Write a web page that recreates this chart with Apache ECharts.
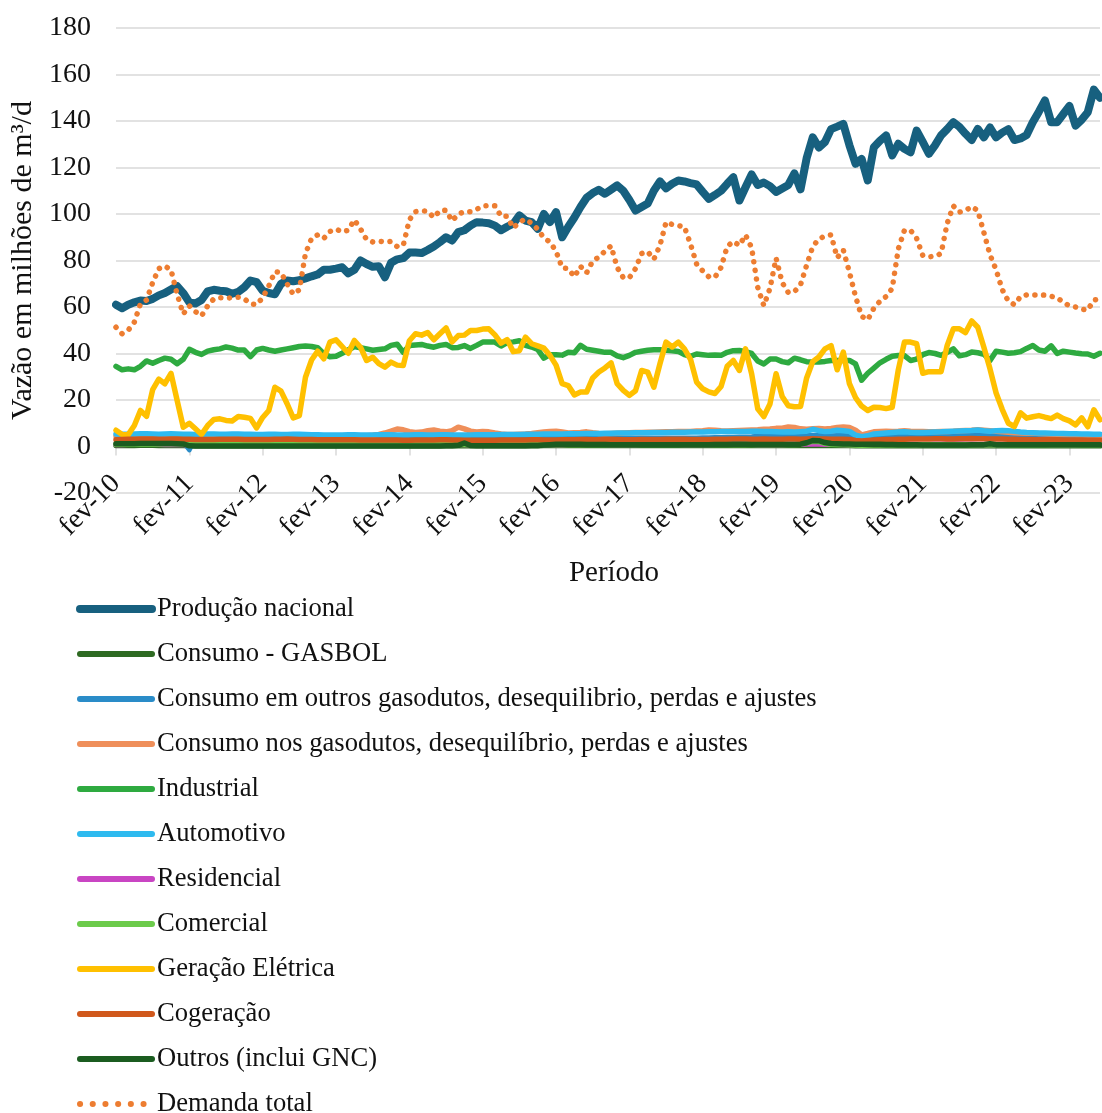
<!DOCTYPE html>
<html lang="pt-BR">
<head>
<meta charset="utf-8">
<title>Oferta e demanda de gás natural</title>
<script src="https://cdn.jsdelivr.net/npm/echarts@6/dist/echarts.min.js"></script>
<style>
  html, body { margin: 0; padding: 0; background: #ffffff; }
  #chart { width: 1102px; height: 1113px; }
</style>
</head>
<body>
<div id="chart"></div>
<script>
// Meses em português e período coberto (fev-10 a jul-23, mensal)
const mesesAbrev = ['jan', 'fev', 'mar', 'abr', 'mai', 'jun', 'jul', 'ago', 'set', 'out', 'nov', 'dez'];
const anoInicial = 2010;
const mesInicial = 1;      // fevereiro
const totalMeses = 162;

const periodos = [];
for (let k = 0; k < totalMeses; k++) {
  const m = (mesInicial + k) % 12;
  const a = anoInicial + Math.floor((mesInicial + k) / 12);
  periodos.push(mesesAbrev[m] + '-' + String(a).slice(2));
}

// Eixo vertical (milhões de m³/d)
const eixoYMin = -20;
const eixoYMax = 180;
const eixoYPasso = 20;

// Séries mensais, uma linha por ano (fev a jan)
const producaoNacional = [
  61, 59.5, 61, 62, 62.8, 62.6, 63.5, 65, 66, 67.5, 69, 66,
  62, 61.5, 63, 66.7, 67.4, 67, 66.8, 65.7, 66.5, 68.5, 71.4, 70.7,
  67, 66, 65.5, 70, 71.4, 71.1, 71.5, 72.3, 73.2, 74, 76, 76,
  76.5, 77.1, 74.5, 76, 80, 78.5, 77.3, 77.5, 72.8, 79, 80.5, 81,
  83.4, 83.4, 83.2, 84.5, 86, 87.9, 90, 88.6, 92.2, 93, 95, 96.5,
  96.3, 96, 95, 93, 94.5, 95.8, 99.4, 97.2, 96.5, 93.6, 100, 96.5,
  100.8, 90, 94.5, 98.5, 103, 107, 109, 110.4, 108.7, 110.5, 112.3, 110,
  106, 101.5, 103, 104.5, 110, 114, 111, 113, 114.4, 114, 113.3, 112.7,
  109.5, 106.5, 108.2, 110, 113, 115.8, 105.8, 111.5, 117, 112.5, 113.5, 112,
  109.5, 111, 112.5, 117.5, 110.6, 124, 133, 128.6, 131, 136.5, 137.6, 138.8,
  129.6, 121.6, 123.7, 114.4, 128.7, 131.5, 133.8, 125.2, 130.2, 128, 126.5, 135.9,
  131, 125.9, 129.5, 133.8, 136.5, 139.5, 137.5, 134.5, 131.8, 136.6, 133, 137.2,
  133, 135, 136.5, 131.8, 132.5, 134, 139.5, 144, 148.8, 139.5, 139.5, 143,
  146.5, 138, 140.5, 143.8, 153.5, 150
];

const consumoGasbol = [
  0.4, 0.4, 0.4, 0.4, 0.5, 0.5, 0.5, 0.4, 0.4, 0.4, 0.4, 0.4,
  0.3, 0.3, 0.3, 0.3, 0.3, 0.3, 0.3, 0.3, 0.3, 0.3, 0.3, 0.3,
  0.3, 0.3, 0.3, 0.3, 0.3, 0.3, 0.3, 0.3, 0.3, 0.3, 0.3, 0.3,
  0.3, 0.3, 0.3, 0.3, 0.3, 0.3, 0.3, 0.3, 0.3, 0.3, 0.3, 0.3,
  0.3, 0.3, 0.3, 0.3, 0.3, 0.3, 0.3, 0.3, 0.3, 0.3, 0.3, 0.3,
  0.3, 0.3, 0.3, 0.3, 0.3, 0.3, 0.3, 0.3, 0.3, 0.3, 0.4, 0.4,
  0.4, 0.4, 0.4, 0.4, 0.4, 0.4, 0.4, 0.4, 0.4, 0.4, 0.4, 0.4,
  0.4, 0.4, 0.4, 0.4, 0.4, 0.4, 0.4, 0.4, 0.4, 0.4, 0.4, 0.4,
  0.4, 0.4, 0.4, 0.4, 0.4, 0.4, 0.4, 0.4, 0.4, 0.4, 0.4, 0.4,
  0.4, 0.4, 0.4, 0.4, 0.4, 0.4, 0.4, 0.4, 0.4, 0.4, 0.4, 0.4,
  0.4, 0.3, 0.3, 0.3, 0.3, 0.3, 0.3, 0.3, 0.3, 0.3, 0.3, 0.3,
  0.3, 0.3, 0.3, 0.3, 0.3, 0.3, 0.3, 0.3, 0.3, 0.3, 0.3, 0.3,
  0.3, 0.3, 0.3, 0.3, 0.3, 0.3, 0.3, 0.3, 0.3, 0.3, 0.3, 0.3,
  0.3, 0.3, 0.3, 0.3, 0.3, 0.3
];

const consumoOutrosGasodutos = [
  3.8, 3.8, 3.9, 3.9, 3.9, 3.8, 3.8, 3.9, 3.9, 3.8, 3.7, 2.0,
  -1.6, 3.6, 3.8, 3.8, 3.8, 3.8, 3.8, 3.8, 3.8, 3.8, 3.8, 3.8,
  3.8, 3.8, 3.8, 3.8, 3.8, 3.8, 3.8, 3.8, 3.8, 3.8, 3.8, 3.8,
  3.8, 3.8, 3.8, 3.8, 3.8, 3.8, 3.8, 3.8, 3.8, 3.8, 3.8, 3.8,
  3.8, 3.8, 3.8, 3.8, 3.8, 3.8, 3.8, 3.8, 3.8, 3.8, 3.8, 3.8,
  3.8, 3.8, 3.8, 3.8, 3.8, 3.8, 3.8, 3.8, 3.8, 3.8, 3.8, 3.8,
  3.8, 3.8, 3.8, 3.8, 3.8, 3.8, 3.8, 3.8, 3.8, 3.8, 3.8, 3.8,
  3.8, 3.8, 3.8, 3.8, 3.8, 3.8, 3.8, 3.8, 3.8, 3.8, 3.8, 3.8,
  3.9, 3.9, 4.0, 4.0, 4.1, 4.1, 4.2, 4.2, 4.3, 4.5, 4.6, 4.7,
  4.8, 4.7, 4.8, 4.8, 4.7, 4.8, 4.9, 4.8, 4.8, 4.7, 4.8, 4.8,
  4.7, 3.9, 3.6, 4.0, 4.4, 4.6, 4.7, 4.7, 4.8, 4.8, 4.8, 4.8,
  4.8, 4.8, 4.9, 4.9, 4.9, 5.0, 5.0, 5.0, 5.0, 5.1, 5.0, 4.9,
  4.9, 4.9, 4.8, 4.8, 4.6, 4.5, 4.4, 4.4, 4.3, 4.3, 4.2, 4.2,
  4.1, 4.1, 4.1, 4.0, 4.0, 4.0
];

const consumoNosGasodutos = [
  4.5, 4.5, 4.5, 4.5, 4.5, 4.5, 4.5, 4.5, 4.5, 4.5, 4.5, 4.5,
  4.5, 4.5, 4.5, 4.5, 4.5, 4.5, 4.5, 4.5, 4.5, 4.5, 4.5, 4.5,
  4.5, 4.5, 4.5, 4.5, 4.5, 4.5, 4.5, 4.5, 4.5, 4.5, 4.5, 4.5,
  4.5, 4.5, 4.5, 4.5, 4.5, 4.6, 4.8, 5.2, 5.8, 6.6, 7.5, 7.2,
  6.4, 6.0, 6.2, 6.8, 7.1, 6.6, 6.3, 6.8, 8.3, 7.6, 6.6, 6.2,
  6.5, 6.3, 5.8, 5.4, 5.2, 5.2, 5.3, 5.4, 5.6, 5.9, 6.2, 6.5,
  6.6, 6.2, 5.8, 5.9, 6.0, 6.3, 5.9, 5.6, 5.5, 5.6, 5.7, 5.8,
  5.9, 6.0, 6.0, 6.1, 6.1, 6.2, 6.3, 6.3, 6.4, 6.4, 6.5, 6.7,
  6.8, 7.1, 7.0, 6.8, 6.7, 6.8, 6.9, 7.0, 7.1, 7.2, 7.4, 7.5,
  7.8, 7.9, 8.4, 8.2, 7.6, 7.4, 7.6, 7.7, 7.5, 7.8, 8.2, 8.4,
  8.2, 7.0, 5.0, 5.6, 6.3, 6.5, 6.6, 6.5, 6.6, 6.8, 6.6, 6.5,
  6.4, 6.3, 6.3, 6.4, 6.5, 6.6, 6.8, 6.9, 7.0, 7.2, 7.0, 6.8,
  6.6, 6.3, 6.1, 5.9, 5.8, 5.7, 5.8, 5.6, 5.5, 5.4, 5.3, 5.2,
  5.1, 5.0, 5.0, 4.9, 4.9, 4.8
];

const industrial = [
  34.5, 33, 33.4, 33, 34.5, 36.8, 35.8, 37, 38, 37.5, 35.6, 37.5,
  41.8, 40.5, 39.6, 41, 41.6, 42, 42.8, 42.3, 41.5, 41.5, 38.7, 41.5,
  42.2, 41.5, 41, 41.5, 42, 42.5, 43, 43.2, 43, 42.5, 39.9, 38.6,
  38.8, 40.1, 41.5, 43, 42.5, 42, 41.4, 41.7, 42, 43.5, 44, 40.5,
  43.4, 43.7, 43.9, 43.2, 42.7, 43.5, 43.9, 42.5, 42.6, 43.4, 42.2, 43.5,
  44.9, 44.9, 44.9, 43.2, 44.7, 45, 45.5, 43.5, 42.8, 41.8, 38, 39.5,
  39.5, 39.3, 40.5, 40.3, 43.5, 41.8, 41.4, 41, 40.5, 40.5, 39, 38.2,
  39.2, 40.5, 41, 41.4, 41.6, 41.6, 41.4, 41.2, 40.9, 39.5, 38.8, 39.8,
  39.5, 39.2, 39.4, 39.2, 40.5, 41.2, 41.3, 40.8, 40, 36.8, 35.5, 37.6,
  37.6, 36.5, 36, 38, 37.3, 36.5, 36.3, 36.3, 36.6, 37, 37, 37,
  37, 35.5, 28.5, 31.5, 33.7, 36, 37.5, 38.8, 39.1, 39.1, 37, 37.6,
  39.5, 40.4, 40, 39.2, 40.5, 42, 39, 39.5, 40.6, 40.3, 39.7, 37,
  41, 40.6, 40.1, 40.3, 40.8, 42.2, 43.4, 41.5, 41, 43.3, 40, 41,
  40.6, 40.2, 39.9, 39.8, 38.8, 40.1
];

const automotivo = [
  5.4, 5.3, 5.3, 5.4, 5.5, 5.5, 5.4, 5.3, 5.4, 5.5, 5.4, 5.3,
  5.3, 5.2, 5.3, 5.4, 5.4, 5.3, 5.3, 5.4, 5.4, 5.3, 5.3, 5.2,
  5.2, 5.3, 5.3, 5.2, 5.2, 5.3, 5.3, 5.2, 5.1, 5.1, 5.0, 5.0,
  5.0, 5.0, 5.1, 5.1, 5.0, 5.0, 5.0, 5.1, 5.1, 5.1, 5.0, 5.0,
  5.0, 5.1, 5.1, 5.0, 5.0, 5.1, 5.1, 5.0, 5.0, 5.0, 5.0, 5.1,
  5.1, 5.1, 5.1, 5.2, 5.2, 5.2, 5.2, 5.3, 5.3, 5.3, 5.4, 5.4,
  5.4, 5.4, 5.5, 5.5, 5.5, 5.6, 5.6, 5.6, 5.7, 5.7, 5.8, 5.8,
  5.8, 5.9, 5.9, 5.9, 6.0, 6.0, 6.0, 6.1, 6.1, 6.1, 6.2, 6.2,
  6.2, 6.3, 6.3, 6.4, 6.4, 6.4, 6.5, 6.5, 6.6, 6.6, 6.5, 6.4,
  6.3, 6.2, 6.3, 6.2, 6.4, 6.6, 7.4, 6.8, 6.4, 6.6, 7.0, 6.8,
  6.5, 4.9, 4.2, 4.6, 5.4, 5.6, 5.8, 6.0, 6.2, 6.3, 6.1, 6.0,
  6.0, 6.1, 6.2, 6.3, 6.5, 6.6, 6.7, 6.8, 6.9, 7.1, 6.8, 6.6,
  6.8, 6.9, 6.8, 6.5, 6.2, 6.0, 5.9, 5.8, 5.8, 5.7, 5.6, 5.6,
  5.5, 5.5, 5.4, 5.4, 5.3, 5.3
];

const residencial = [
  0.9, 0.9, 1.0, 1.0, 1.0, 1.0, 1.0, 1.0, 0.9, 0.9, 0.9, 0.9,
  0.9, 0.9, 1.0, 1.0, 1.0, 1.0, 1.0, 1.0, 0.9, 0.9, 0.9, 0.9,
  0.9, 0.9, 1.0, 1.0, 1.0, 1.1, 1.1, 1.0, 1.0, 0.9, 0.9, 0.9,
  0.9, 0.9, 1.0, 1.0, 1.0, 1.1, 1.1, 1.0, 1.0, 0.9, 0.9, 0.9,
  0.9, 0.9, 1.0, 1.0, 1.0, 1.1, 1.1, 1.0, 1.0, 0.9, 0.9, 0.9,
  0.9, 0.9, 1.0, 1.0, 1.0, 1.1, 1.1, 1.0, 1.0, 0.9, 0.9, 0.9,
  0.9, 0.9, 1.0, 1.0, 1.0, 1.1, 1.1, 1.0, 1.0, 0.9, 0.9, 0.9,
  0.9, 0.9, 1.0, 1.0, 1.0, 1.1, 1.1, 1.0, 1.0, 0.9, 0.9, 0.9,
  0.9, 0.9, 1.0, 1.0, 1.0, 1.1, 1.1, 1.0, 1.0, 0.9, 0.9, 0.9,
  0.9, 0.9, 1.0, 1.0, 1.0, 1.1, 1.1, 1.1, 1.0, 1.0, 1.0, 0.9,
  0.9, 0.9, 1.0, 1.1, 1.1, 1.2, 1.2, 1.1, 1.0, 1.0, 1.0, 0.9,
  0.9, 0.9, 1.0, 1.0, 1.1, 1.1, 1.1, 1.0, 1.0, 0.9, 0.9, 0.9,
  0.9, 0.9, 1.0, 1.0, 1.0, 1.1, 1.1, 1.0, 1.0, 0.9, 0.9, 0.9,
  0.9, 0.9, 1.0, 1.0, 1.0, 1.0
];

const comercial = [
  1.0, 1.0, 1.0, 1.0, 1.0, 1.0, 1.0, 1.1, 1.2, 1.2, 1.2, 1.1,
  0.9, 0.9, 0.9, 0.9, 0.9, 0.9, 0.9, 0.9, 0.9, 0.9, 0.9, 0.9,
  0.9, 0.9, 0.9, 0.9, 0.9, 0.9, 0.9, 0.9, 0.9, 0.9, 0.9, 0.9,
  0.9, 0.9, 0.9, 0.9, 0.9, 0.9, 0.9, 0.9, 0.9, 0.9, 0.9, 0.9,
  0.9, 0.9, 0.9, 0.9, 0.9, 0.9, 0.9, 0.9, 0.9, 0.9, 0.9, 0.9,
  0.9, 0.9, 0.9, 0.9, 0.9, 0.9, 0.9, 0.9, 0.9, 0.9, 0.9, 0.9,
  0.9, 0.9, 0.9, 0.9, 0.9, 0.9, 0.9, 0.9, 0.9, 0.9, 0.9, 0.9,
  0.9, 0.9, 0.9, 0.9, 0.9, 0.9, 0.9, 0.9, 0.9, 0.9, 0.9, 0.9,
  0.9, 0.9, 0.9, 0.9, 0.9, 0.9, 0.9, 0.9, 0.9, 0.9, 0.9, 0.9,
  0.9, 0.9, 0.9, 0.9, 1.0, 1.6, 2.3, 2.1, 1.4, 1.0, 0.9, 0.9,
  0.8, 0.6, 0.5, 0.6, 0.7, 0.8, 0.8, 0.8, 0.8, 0.8, 0.8, 0.8,
  0.8, 0.8, 0.8, 0.8, 0.8, 0.8, 0.8, 0.8, 0.8, 0.8, 0.8, 0.8,
  0.8, 0.8, 0.8, 0.8, 0.8, 0.8, 0.8, 0.8, 0.8, 0.8, 0.8, 0.8,
  0.8, 0.8, 0.8, 0.8, 0.8, 0.8
];

const geracaoEletrica = [
  7, 5.2, 5.1, 9, 15.5, 13, 24.5, 29, 27, 31.5, 19.8, 8.3,
  10, 7.6, 5.2, 9, 11.6, 11.9, 11.2, 11, 12.9, 12.6, 12.1, 8,
  12.5, 15.5, 25.5, 23.8, 18.4, 12.3, 13.3, 29.8, 37.2, 41, 37.7, 44.9,
  45.9, 43, 40.1, 45.6, 42.7, 37, 38.4, 35.6, 34.1, 36.3, 35, 34.8,
  45.5, 48.5, 47.9, 49, 45.9, 48.5, 51, 45, 47.7, 47.9, 49.9, 49.9,
  50.5, 50.6, 48, 44.5, 46, 40.8, 41.2, 47, 44.2, 43.3, 42.3, 39.2,
  35, 27, 26.2, 22.2, 23.4, 23.4, 29.5, 32, 33.8, 36, 27, 24.1,
  22, 24, 32.7, 32, 25.5, 35.6, 44.9, 42.8, 44.9, 42, 37.5, 27.7,
  24.8, 23.5, 22.8, 25.8, 34.5, 37, 32.7, 42, 31.3, 16.2, 12.9, 18.3,
  31.3, 21.5, 17.5, 17.1, 17.2, 29.5, 36.5, 38.5, 42, 43.4, 33, 40.6,
  27, 21, 17.4, 15.5, 16.9, 16.8, 16.3, 16.9, 33, 44.9, 44.9, 44.2,
  31.5, 32.2, 32.2, 32.2, 43.5, 50.6, 50.6, 49, 54, 51.3, 42.7, 33.4,
  23, 16, 10, 8.6, 14.5, 12.2, 12.8, 13.3, 12.6, 12, 13.5, 12,
  11, 9.3, 12.3, 8.5, 15.8, 11.5
];

const cogeracao = [
  2.9, 3.0, 3.1, 3.1, 3.2, 3.2, 3.2, 3.1, 3.1, 3.2, 3.2, 3.1,
  3.1, 3.0, 3.0, 3.0, 3.0, 3.1, 3.1, 3.1, 3.1, 3.0, 3.0, 3.0,
  3.0, 3.0, 3.1, 3.1, 3.2, 3.1, 3.0, 3.0, 3.0, 2.9, 2.9, 2.9,
  2.9, 2.9, 2.9, 2.9, 2.8, 2.8, 2.8, 2.8, 2.8, 2.8, 2.8, 2.7,
  2.7, 2.8, 2.8, 2.8, 2.8, 2.9, 2.9, 2.8, 2.8, 2.7, 2.7, 2.7,
  2.7, 2.7, 2.7, 2.8, 2.8, 2.8, 2.8, 2.8, 2.9, 2.9, 2.8, 2.8,
  2.8, 2.9, 2.9, 2.9, 3.0, 3.0, 2.9, 2.9, 3.0, 3.0, 3.0, 2.9,
  2.9, 2.9, 3.0, 3.0, 3.0, 3.0, 3.1, 3.1, 3.1, 3.1, 3.0, 3.0,
  3.0, 3.0, 3.1, 3.1, 3.1, 3.2, 3.2, 3.2, 3.1, 3.1, 3.2, 3.1,
  3.1, 3.1, 3.2, 3.2, 3.1, 3.2, 3.3, 3.2, 3.2, 3.1, 3.1, 3.1,
  3.0, 2.6, 2.4, 2.6, 2.8, 2.9, 3.0, 3.0, 3.1, 3.1, 3.2, 3.2,
  3.2, 3.2, 3.3, 3.3, 3.2, 3.2, 3.3, 3.3, 3.4, 3.3, 3.3, 3.2,
  3.2, 3.2, 3.1, 3.1, 3.0, 3.0, 3.0, 2.9, 2.9, 2.9, 2.9, 2.8,
  2.8, 2.8, 2.8, 2.7, 2.7, 2.7
];

const outrosGnc = [
  1.2, 1.2, 1.2, 1.2, 1.3, 1.3, 1.3, 1.3, 1.3, 1.3, 1.2, 1.1,
  0.3, 0.2, 0.2, 0.2, 0.2, 0.2, 0.2, 0.2, 0.2, 0.2, 0.2, 0.2,
  0.2, 0.2, 0.2, 0.2, 0.2, 0.2, 0.2, 0.2, 0.2, 0.2, 0.2, 0.2,
  0.2, 0.2, 0.2, 0.2, 0.2, 0.2, 0.2, 0.2, 0.2, 0.2, 0.2, 0.2,
  0.2, 0.2, 0.2, 0.2, 0.2, 0.2, 0.3, 0.3, 0.5, 1.5, 0.4, 0.3,
  0.3, 0.3, 0.3, 0.3, 0.3, 0.3, 0.3, 0.3, 0.4, 0.4, 0.6, 0.8,
  1.0, 1.0, 1.0, 1.0, 1.0, 0.9, 0.9, 0.9, 0.9, 0.8, 0.8, 0.8,
  0.8, 0.8, 0.8, 0.8, 0.8, 0.8, 0.7, 0.7, 0.7, 0.7, 0.7, 0.7,
  0.8, 0.8, 0.9, 0.9, 0.9, 1.0, 1.0, 1.0, 0.9, 0.9, 0.9, 0.9,
  0.9, 0.9, 0.9, 0.9, 1.0, 1.6, 2.6, 2.5, 1.7, 1.3, 1.2, 1.1,
  1.1, 1.0, 1.0, 1.0, 1.0, 1.0, 0.9, 0.9, 0.8, 0.8, 0.8, 0.7,
  0.6, 0.6, 0.6, 0.6, 0.6, 0.6, 0.6, 0.6, 0.7, 0.7, 0.8, 1.2,
  0.8, 0.7, 0.7, 0.7, 0.7, 0.7, 0.7, 0.7, 0.7, 0.7, 0.7, 0.7,
  0.7, 0.7, 0.7, 0.7, 0.7, 0.7
];

const demandaTotal = [
  51.3, 48.5, 50, 53.5, 61.4, 63, 70.5, 76.5, 77.6, 76, 65.5, 57,
  60.5, 58, 56.2, 60.5, 63.5, 64, 63.8, 64, 64.2, 63.5, 61.4, 61,
  64, 69, 75.2, 74.8, 70, 65.5, 67.4, 83, 89.5, 91, 89.5, 92.5,
  93.5, 92.3, 93, 97.5, 93.6, 89, 88, 88.3, 88, 88.2, 86, 86.5,
  97.5, 101, 101.4, 101.2, 98.5, 101.5, 101.6, 97, 100, 101, 101, 102,
  103.4, 103.6, 103.5, 99, 99, 94, 96.5, 97.8, 96, 93.5, 89.7, 88,
  84, 76.8, 76.5, 73, 77.5, 74.7, 79.8, 81.5, 84, 86.3, 77, 72.6,
  72.6, 76.5, 83, 83.8, 80.5, 86.5, 96.5, 95.5, 95, 94.5, 87, 78.5,
  75.5, 73, 72.8, 77, 86, 88.2, 86.5, 91, 85.5, 68.5, 60.6, 68,
  81, 70.5, 66.2, 66.6, 69.5, 78, 86, 89.3, 90.5, 91, 81.2, 84.5,
  75, 64.5, 56, 54.5, 59.5, 62.5, 64.5, 68, 85, 93, 93, 89.5,
  82.2, 81.6, 81.8, 83, 96, 103.5, 100.8, 101.5, 103.2, 101.5, 92, 82.5,
  76, 67.5, 62.5, 61, 64.5, 65.2, 65.2, 65.2, 65.1, 64.6, 64, 62,
  60.5, 60, 59, 58.7, 63, 63.5
];

// Nome, dados, cor e espessura de cada linha, na ordem da legenda
const series = [
  { nome: 'Produção nacional', dados: producaoNacional, cor: '#17607f', largura: 8 },
  { nome: 'Consumo - GASBOL', dados: consumoGasbol, cor: '#2e6a22', largura: 5.5 },
  { nome: 'Consumo em outros gasodutos, desequilibrio, perdas e ajustes', dados: consumoOutrosGasodutos, cor: '#2a8cc8', largura: 4.5 },
  { nome: 'Consumo nos gasodutos, desequilíbrio, perdas e ajustes', dados: consumoNosGasodutos, cor: '#ef8f5a', largura: 5.5 },
  { nome: 'Industrial', dados: industrial, cor: '#2eaa40', largura: 5.5 },
  { nome: 'Automotivo', dados: automotivo, cor: '#2ebaef', largura: 5.5 },
  { nome: 'Residencial', dados: residencial, cor: '#c945c3', largura: 5.5 },
  { nome: 'Comercial', dados: comercial, cor: '#6ccb4b', largura: 5.5 },
  { nome: 'Geração Elétrica', dados: geracaoEletrica, cor: '#ffc000', largura: 5.5 },
  { nome: 'Cogeração', dados: cogeracao, cor: '#d0581c', largura: 5.5 },
  { nome: 'Outros (inclui GNC)', dados: outrosGnc, cor: '#1b5c20', largura: 5.5 },
  { nome: 'Demanda total', dados: demandaTotal, cor: '#ed7d31', largura: 5.5, pontilhada: true }
];

const fonte = '"Liberation Serif", "Times New Roman", serif';
const corTexto = '#111111';
const corGrade = '#d9d9d9';

// Deslocamento do eixo de categorias até a linha do zero (um intervalo de 20)
const alturaGrade = 1113 - 28 - 620;
const deslocamentoZero = alturaGrade * (0 - eixoYMin) / (eixoYMax - eixoYMin);

const chart = echarts.init(document.getElementById('chart'), null, { renderer: 'canvas' });

chart.setOption({
  animation: false,
  backgroundColor: '#ffffff',
  textStyle: { fontFamily: fonte, color: corTexto },
  grid: { left: 116, right: 2, top: 28, bottom: 620, containLabel: false, outerBoundsMode: 'none' },
  legend: {
    orient: 'vertical',
    left: 71,
    top: 589,
    height: 700,
    itemWidth: 72,
    itemHeight: 14,
    itemGap: 15,
    itemStyle: { opacity: 0 },
    textStyle: { fontFamily: fonte, fontSize: 26.6, color: corTexto, lineHeight: 30 },
    data: series.map(s => ({
      name: s.nome,
      itemStyle: { opacity: 0 },
      lineStyle: {
        color: s.cor,
        width: s.pontilhada ? 6 : Math.max(s.largura, 6),
        cap: 'round',
        type: s.pontilhada ? [0.1, 12.6] : 'solid',
        dashOffset: 0
      }
    }))
  },
  xAxis: {
    type: 'category',
    data: periodos,
    boundaryGap: false,
    position: 'bottom',
    offset: -deslocamentoZero,
    name: 'Período',
    nameLocation: 'middle',
    nameGap: 112,
    nameTextStyle: { fontFamily: fonte, fontSize: 29, color: corTexto, padding: [0, 0, 0, 12] },
    axisLine: { onZero: false, lineStyle: { color: corGrade, width: 1.5 } },
    axisTick: { show: true, interval: 11, length: 9, lineStyle: { color: corGrade, width: 1.5 } },
    axisLabel: {
      interval: 11,
      rotate: 45,
      margin: 33,
      fontFamily: fonte,
      fontSize: 28,
      color: corTexto
    },
    splitLine: { show: false }
  },
  yAxis: {
    type: 'value',
    min: eixoYMin,
    max: eixoYMax,
    interval: eixoYPasso,
    name: 'Vazão em milhões de m³/d',
    nameLocation: 'middle',
    nameGap: 70,
    nameTextStyle: { fontFamily: fonte, fontSize: 30, color: corTexto },
    axisLine: { show: false },
    axisTick: { show: false },
    axisLabel: { margin: 25, fontFamily: fonte, fontSize: 28, color: corTexto },
    splitLine: { lineStyle: { color: corGrade, width: 1.5 } }
  },
  series: series.map(s => ({
    name: s.nome,
    type: 'line',
    data: s.dados,
    symbol: 'none',
    smooth: false,
    clip: true,
    lineStyle: {
      color: s.cor,
      width: s.largura,
      cap: 'round',
      join: 'round',
      type: s.pontilhada ? [0.1, 8.6] : 'solid'
    },
    itemStyle: { color: s.cor },
    emphasis: { disabled: true }
  }))
});
</script>
</body>
</html>
